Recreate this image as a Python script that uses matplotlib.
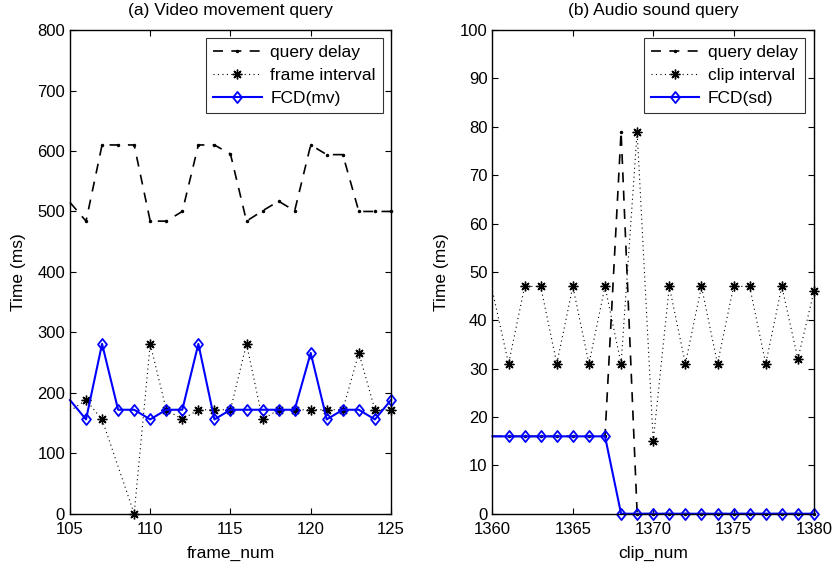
import matplotlib
matplotlib.use('Agg')
import matplotlib.pyplot as plt
from matplotlib.path import Path

# (a) video movement query
frame_num = list(range(105, 126))
query_delay_a = [515, 484, 610, 610, 610, 484, 484, 500, 610, 610, 595,
                 484, 501, 517, 501, 610, 594, 594, 500, 500, 500]
frame_num_fi = [105, 106, 107, 109, 110, 111, 112, 113, 114, 115, 116,
                117, 118, 119, 120, 121, 122, 123, 124, 125]
frame_interval = [170, 188, 156, 0, 281, 172, 156, 172, 172, 172, 281,
                  156, 172, 172, 172, 172, 172, 266, 172, 172]
fcd_mv = [188, 156, 281, 172, 172, 156, 172, 172, 281, 156, 172,
          172, 172, 172, 172, 266, 156, 172, 172, 156, 188]

# (b) audio sound query
clip_num = list(range(1360, 1381))
query_delay_b = [16, 16, 16, 16, 16, 16, 16, 16, 79, 0, 0,
                 0, 0, 0, 0, 0, 0, 0, 0, 0, 0]
clip_interval = [46, 31, 47, 47, 31, 47, 31, 47, 31, 79, 15,
                 47, 31, 47, 31, 47, 47, 31, 47, 32, 46]
fcd_sd = [16, 16, 16, 16, 16, 16, 16, 16, 0, 0, 0,
          0, 0, 0, 0, 0, 0, 0, 0, 0, 0]

plt.rcParams['font.family'] = ['Liberation Sans', 'DejaVu Sans']
plt.rcParams['font.size'] = 12.5

diamond = Path([(0, 1), (0.8, 0), (0, -1), (-0.8, 0), (0, 1)],
               [Path.MOVETO, Path.LINETO, Path.LINETO, Path.LINETO, Path.CLOSEPOLY])
asterisk = (8, 2, 0)

fig = plt.figure(figsize=(8.35, 5.71), dpi=100)
ax1 = fig.add_axes([0.0838, 0.1003, 0.3844, 0.847])
ax2 = fig.add_axes([0.5898, 0.1003, 0.3850, 0.847])


def draw(ax, x, qd, xi, iv, fcd, labels):
    n = len(x)
    ax.plot(x, qd, color='k', linestyle=(0, (6, 5)), lw=1.2, marker='.',
            markersize=3, markevery=list(range(1, n)), clip_on=False, label=labels[0])
    ax.plot(xi, iv, color='k', linestyle=(0, (1, 3)), lw=0.8, marker=asterisk,
            markersize=7, markeredgewidth=1.0, markevery=list(range(1, len(xi))),
            clip_on=False, label=labels[1])
    ax.plot(x, fcd, color='#0000ff', lw=1.5, marker=diamond, markersize=8,
            markerfacecolor='none', markeredgecolor='#0000ff', markeredgewidth=1.3,
            markevery=list(range(1, n)), clip_on=False, label=labels[2])
    ax.tick_params(direction='in', top=True, right=True, length=4, width=0.8,
                   labelsize=12)
    ax.tick_params(axis='x', pad=6)
    for s in ax.spines.values():
        s.set_linewidth(1.0)
    leg = ax.legend(loc='upper right', frameon=True, fancybox=False,
                    edgecolor='k', fontsize=12.5, handlelength=2.8,
                    labelspacing=0.45, borderpad=0.4, handletextpad=0.5,
                    borderaxespad=0)
    leg.get_frame().set_linewidth(0.8)
    return leg


leg1 = draw(ax1, frame_num, query_delay_a, frame_num_fi, frame_interval, fcd_mv,
            ['query delay', 'frame interval', 'FCD(mv)'])
leg1.set_bbox_to_anchor((0.975, 0.983), transform=ax1.transAxes)
ax1.set_xlim(105, 125)
ax1.set_ylim(0, 800)
ax1.set_xticks(range(105, 126, 5))
ax1.set_yticks(range(0, 801, 100))
ax1.set_xlabel('frame_num', labelpad=6)
ax1.set_ylabel('Time (ms)', labelpad=8)
ax1.set_title('(a) Video movement query', fontsize=12.5, pad=11)

leg2 = draw(ax2, clip_num, query_delay_b, clip_num, clip_interval, fcd_sd,
            ['query delay', 'clip interval', 'FCD(sd)'])
leg2.set_bbox_to_anchor((0.972, 0.983), transform=ax2.transAxes)
ax2.set_xlim(1360, 1380)
ax2.set_ylim(0, 100)
ax2.set_xticks(range(1360, 1381, 5))
ax2.set_yticks(range(0, 101, 10))
ax2.set_xlabel('clip_num', labelpad=6)
ax2.set_ylabel('Time (ms)', labelpad=8)
ax2.set_title('(b) Audio sound query', fontsize=12.5, pad=11)

fig.savefig('out.png', dpi=100)
